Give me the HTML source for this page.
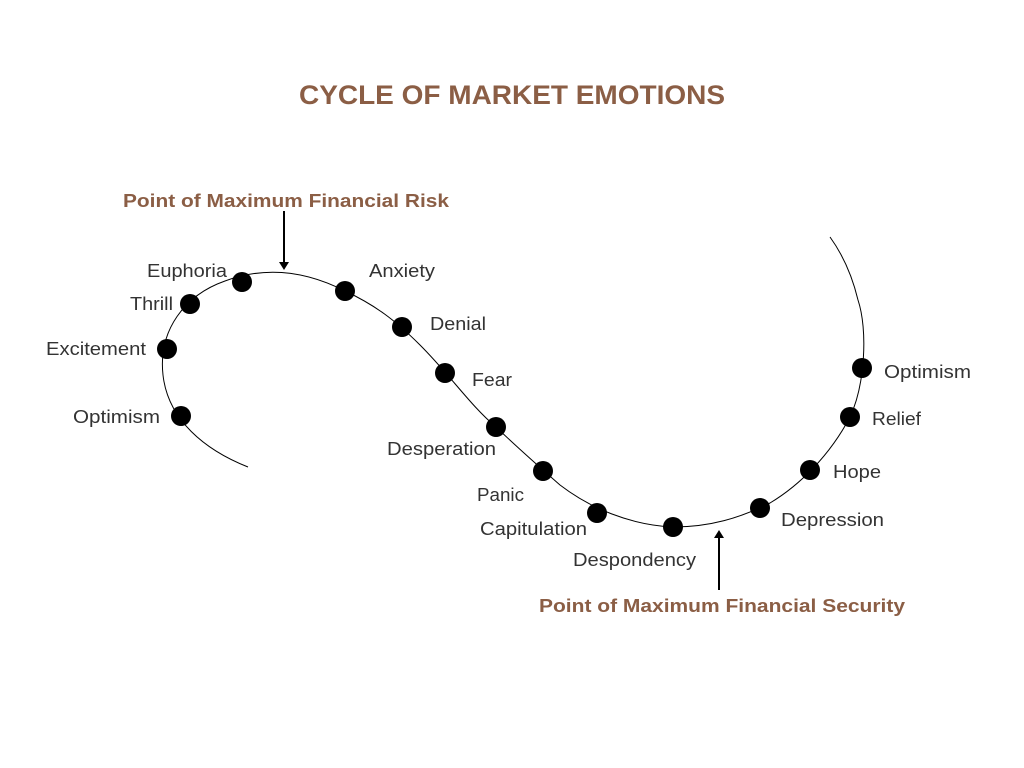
<!DOCTYPE html>
<html><head><style>
html,body{margin:0;padding:0;background:#fff;}
svg{display:block}
text{font-family:"Liberation Sans",sans-serif;}
</style></head><body>
<svg width="1024" height="768" viewBox="0 0 1024 768" xmlns="http://www.w3.org/2000/svg">
<rect width="1024" height="768" fill="#fff"/>
<text x="299" y="104" font-size="27" font-weight="bold" fill="#8b5e45" textLength="426" lengthAdjust="spacingAndGlyphs">CYCLE OF MARKET EMOTIONS</text>
<text x="123" y="207" font-size="18" font-weight="bold" fill="#8b5e45" textLength="326" lengthAdjust="spacingAndGlyphs">Point of Maximum Financial Risk</text>
<text x="539" y="612" font-size="18" font-weight="bold" fill="#8b5e45" textLength="366" lengthAdjust="spacingAndGlyphs">Point of Maximum Financial Security</text>
<path d="M248,467 C205,450 168,420 163,375 C158,330 185,295 225,281 C260,268 300,268 345,291 C375,305 395,320 420,345 C450,375 470,405 496,427 C520,450 535,463 560,485 C590,508 630,525 673,527 C710,527 740,518 770,503 C800,485 830,455 850,417 C865,385 868,330 858,300 C852,275 843,255 830,237" fill="none" stroke="#000" stroke-width="1"/>
<g fill="#000">
<circle cx="181" cy="416" r="10"/><circle cx="167" cy="349" r="10"/><circle cx="190" cy="304" r="10"/><circle cx="242" cy="282" r="10"/>
<circle cx="345" cy="291" r="10"/><circle cx="402" cy="327" r="10"/><circle cx="445" cy="373" r="10"/><circle cx="496" cy="427" r="10"/>
<circle cx="543" cy="471" r="10"/><circle cx="597" cy="513" r="10"/><circle cx="673" cy="527" r="10"/><circle cx="760" cy="508" r="10"/>
<circle cx="810" cy="470" r="10"/><circle cx="850" cy="417" r="10"/><circle cx="862" cy="368" r="10"/>
</g>
<line x1="284" y1="211" x2="284" y2="264" stroke="#000" stroke-width="2"/>
<path d="M279,262 L289,262 L284,270 Z" fill="#000"/>
<line x1="719" y1="590" x2="719" y2="536" stroke="#000" stroke-width="2"/>
<path d="M714,538 L724,538 L719,530 Z" fill="#000"/>
<g font-size="18" fill="#333" lengthAdjust="spacingAndGlyphs">
<text x="73" y="423" textLength="87" lengthAdjust="spacingAndGlyphs">Optimism</text>
<text x="46" y="355" textLength="100" lengthAdjust="spacingAndGlyphs">Excitement</text>
<text x="130" y="310" textLength="43" lengthAdjust="spacingAndGlyphs">Thrill</text>
<text x="147" y="277" textLength="80" lengthAdjust="spacingAndGlyphs">Euphoria</text>
<text x="369" y="277" textLength="66" lengthAdjust="spacingAndGlyphs">Anxiety</text>
<text x="430" y="330" textLength="56" lengthAdjust="spacingAndGlyphs">Denial</text>
<text x="472" y="386" textLength="40" lengthAdjust="spacingAndGlyphs">Fear</text>
<text x="387" y="455" textLength="109" lengthAdjust="spacingAndGlyphs">Desperation</text>
<text x="477" y="501" textLength="47" lengthAdjust="spacingAndGlyphs">Panic</text>
<text x="480" y="535" textLength="107" lengthAdjust="spacingAndGlyphs">Capitulation</text>
<text x="573" y="566" textLength="123" lengthAdjust="spacingAndGlyphs">Despondency</text>
<text x="781" y="526" textLength="103" lengthAdjust="spacingAndGlyphs">Depression</text>
<text x="833" y="478" textLength="48" lengthAdjust="spacingAndGlyphs">Hope</text>
<text x="872" y="425" textLength="49" lengthAdjust="spacingAndGlyphs">Relief</text>
<text x="884" y="378" textLength="87" lengthAdjust="spacingAndGlyphs">Optimism</text>
</g>
</svg>
</body></html>
